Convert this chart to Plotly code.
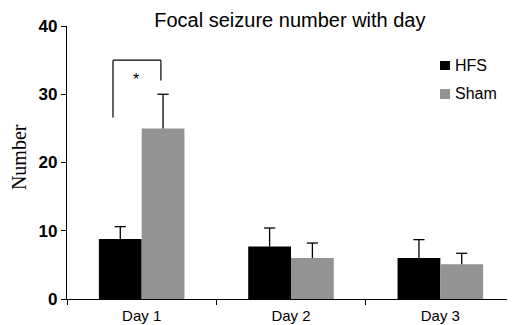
import plotly.graph_objects as go

days = ["Day 1", "Day 2", "Day 3"]
hfs_values = [8.8, 7.7, 6.0]
hfs_err = [1.8, 2.7, 2.7]
sham_values = [25.0, 6.0, 5.1]
sham_err = [5.0, 2.2, 1.6]
y_ticks = [0, 10, 20, 30, 40]
series_names = ["HFS", "Sham"]
series_colors = ["#000000", "#939393"]

BARGAP = 0.427
series = [(series_names[0], hfs_values, hfs_err, series_colors[0]),
          (series_names[1], sham_values, sham_err, series_colors[1])]

fig = go.Figure()
# bars with upper error lines (caps added below so only the top one shows)
for k, (name, vals, errs, col) in enumerate(series):
    fig.add_trace(go.Bar(
        x=days, y=vals, name=name,
        marker=dict(color=col, line=dict(width=0)),
        error_y=dict(type="data", array=errs, arrayminus=[0] * len(errs), symmetric=False,
                     color="#000000", thickness=1.3, width=0),
        showlegend=False,
    ))

# top caps of the error bars, on a hidden numeric overlay axis aligned with the categories
bar_w = (1 - BARGAP) / len(series)
for k, (name, vals, errs, col) in enumerate(series):
    off = -(1 - BARGAP) / 2 + bar_w * (k + 0.5)
    fig.add_trace(go.Scatter(
        x=[i + off for i in range(len(days))],
        y=[v + e for v, e in zip(vals, errs)],
        xaxis="x2", mode="markers", showlegend=False, hoverinfo="skip",
        marker=dict(symbol="line-ew", size=8, line=dict(color="#000000", width=1.3)),
    ))

# significance bracket
bl = dict(color="#000000", width=1.2)
fig.add_shape(type="line", xref="x", yref="y", x0=-0.192, x1=-0.192, y0=26.6, y1=35, line=bl)
fig.add_shape(type="line", xref="x", yref="y", x0=-0.192, x1=0.129, y0=35, y1=35, line=bl)
fig.add_shape(type="line", xref="x", yref="y", x0=0.129, x1=0.129, y0=32, y1=35, line=bl)
fig.add_annotation(x=-0.038, y=32.1, xref="x", yref="y", text="*", showarrow=False,
                   yanchor="middle",
                   font=dict(family="Liberation Sans, Arial", size=16, color="#000000"))

# legend (drawn manually to match the compact swatch layout)
legend_rows = [(0.8718, 0.8388, 0.857), (0.769, 0.7326, 0.751)]
for (y1, y0, yt), name, col in zip(legend_rows, series_names, series_colors):
    fig.add_shape(type="rect", xref="paper", yref="paper", x0=0.8326, x1=0.855, y0=y0, y1=y1,
                  fillcolor=col, line=dict(width=0))
    fig.add_annotation(x=0.8616, y=yt, xref="paper", yref="paper", text=name, showarrow=False,
                       xanchor="left", yanchor="middle",
                       font=dict(family="Liberation Sans, Arial", size=16, color="#000000"))

# y-axis title
fig.add_annotation(x=-0.107, y=0.52, xref="paper", yref="paper", text="Number", showarrow=False,
                   textangle=-90, xanchor="center", yanchor="middle",
                   font=dict(family="Liberation Serif, Times New Roman", size=20, color="#000000"))

fig.update_layout(
    width=507, height=317,
    margin=dict(l=59, r=0, t=18, b=26, autoexpand=False),
    paper_bgcolor="white", plot_bgcolor="white",
    barmode="group", bargap=BARGAP, bargroupgap=0,
    title=dict(text="Focal seizure number with day", x=0.556, xanchor="center",
               xref="container", y=0.962, yref="container", yanchor="middle",
               font=dict(family="Liberation Sans, Arial", size=20, color="#000000")),
    font=dict(family="Liberation Sans, Arial", size=15, color="#000000"),
    xaxis2=dict(overlaying="x", range=[-0.5, len(days) - 0.5], visible=False,
                showgrid=False, zeroline=False),
)
fig.update_xaxes(selector=dict(anchor="y"))
fig.update_layout(xaxis=dict(
    type="category", range=[-0.5, len(days) - 0.5], showline=True, linecolor="#000000",
    linewidth=1.3, ticks="outside", tickson="boundaries", ticklen=5, tickcolor="#000000",
    tickwidth=1.3, showgrid=False, zeroline=False, tickfont=dict(size=15), automargin=False,
    ticklabelstandoff=3,
))
fig.update_yaxes(
    range=[0, 40], tickvals=y_ticks, showline=True, linecolor="#000000", linewidth=1.3,
    ticks="outside", ticklen=5, tickcolor="#000000", tickwidth=1.3,
    showgrid=False, zeroline=False, automargin=False,
    tickfont=dict(size=17, weight="bold"),
)

fig.write_html("out.html")
